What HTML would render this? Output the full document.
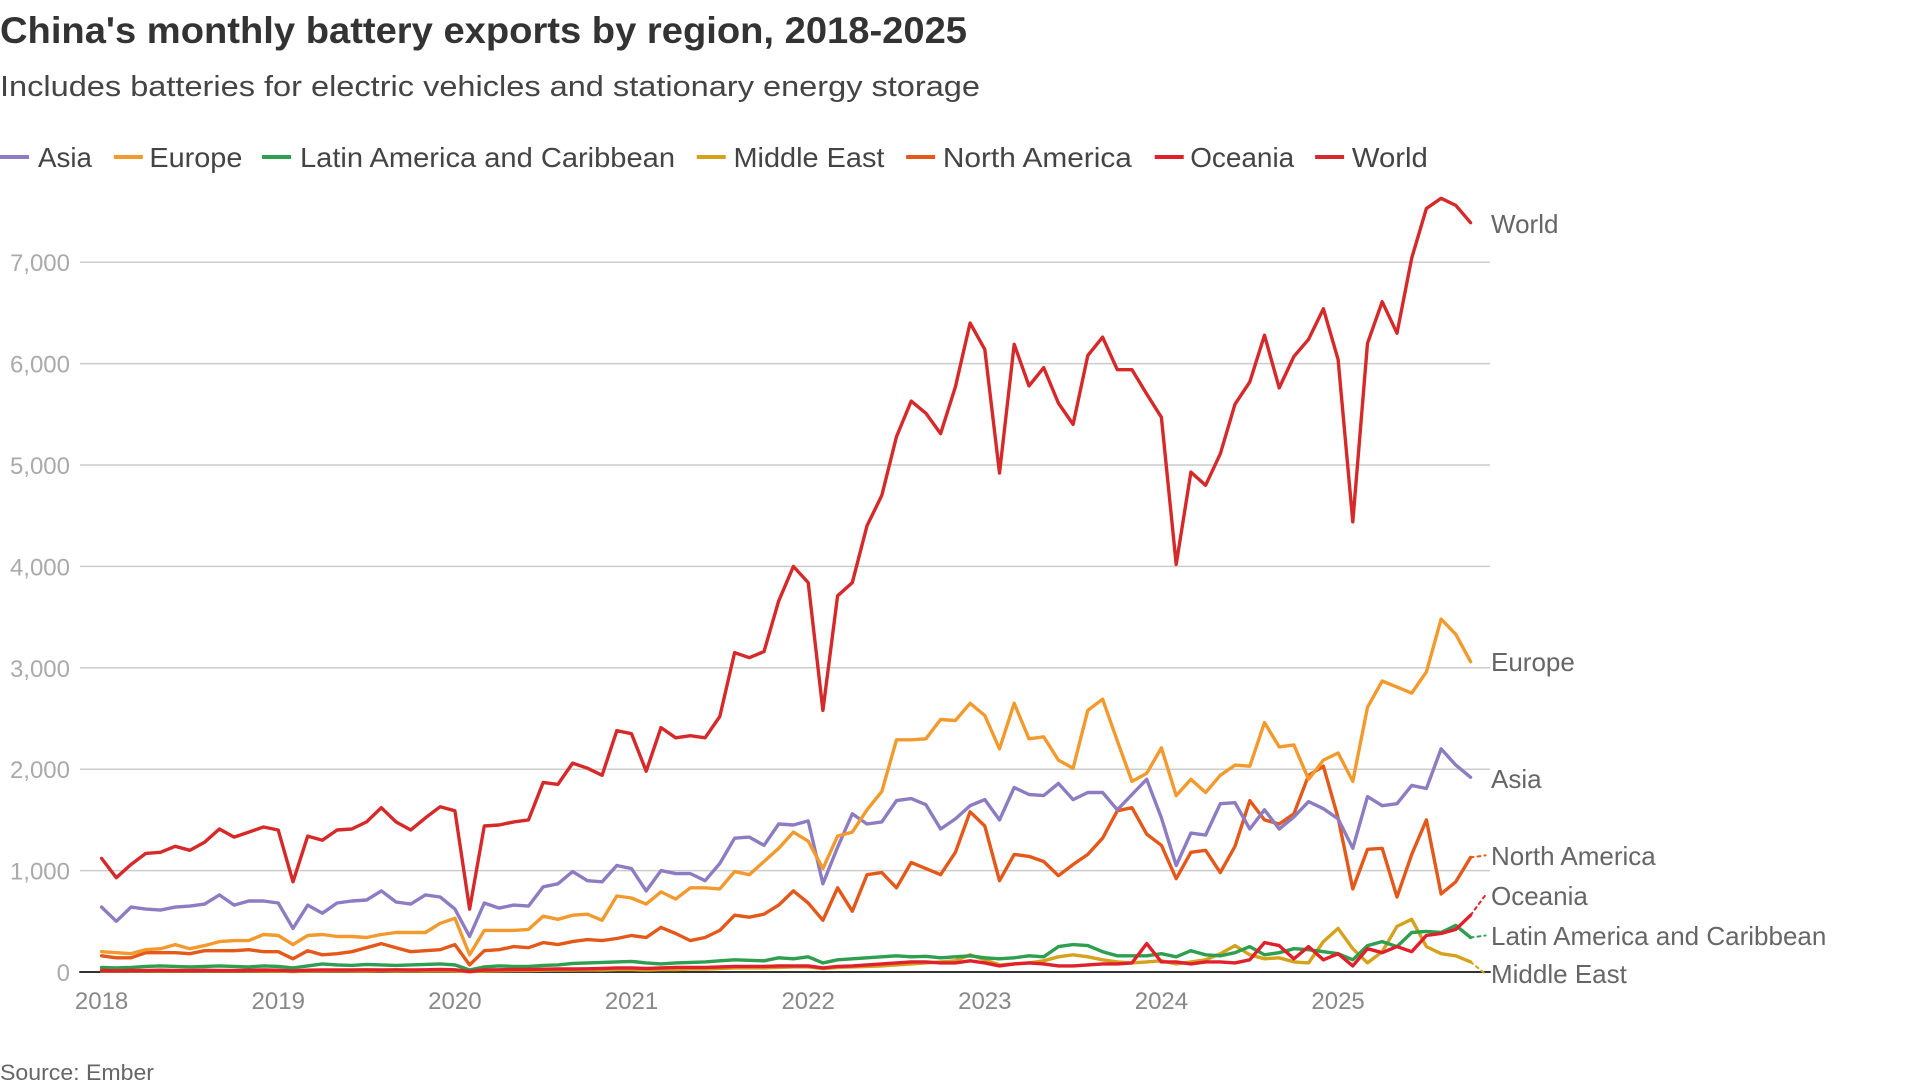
<!DOCTYPE html>
<html><head><meta charset="utf-8"><style>
html,body{margin:0;padding:0;background:#fff;}
svg{display:block;}
text{font-family:"Liberation Sans",sans-serif;}
</style></head><body>
<svg id="s" width="1920" height="1087" xmlns="http://www.w3.org/2000/svg">
<text x="0" y="43" font-size="37" font-weight="bold" fill="#333" textLength="967" lengthAdjust="spacingAndGlyphs">China's monthly battery exports by region, 2018-2025</text>
<text x="0" y="96" font-size="29" fill="#444" textLength="980" lengthAdjust="spacingAndGlyphs">Includes batteries for electric vehicles and stationary energy storage</text>
<g id="legend" font-size="28" fill="#444"></g>
<g id="grid"></g>
<g id="lines" fill="none" stroke-width="3.4" stroke-linejoin="round" stroke-linecap="round"></g>
<g id="labels" font-size="26" fill="#666"></g>
<text x="0" y="1080" font-size="22" fill="#666" textLength="154" lengthAdjust="spacingAndGlyphs">Source: Ember</text>
</svg>
<script>
const NS="http://www.w3.org/2000/svg";
function el(t,a,p,txt){const e=document.createElementNS(NS,t);for(const k in a)e.setAttribute(k,a[k]);if(txt!==undefined)e.textContent=txt;p.appendChild(e);return e;}
const X0=101.6,DX=14.72,Y0=972,K=0.1014;
const X=i=>X0+i*DX, Y=v=>Y0-v*K;
const grid=document.getElementById('grid');
for(let v=1000;v<=7000;v+=1000){el('line',{x1:80,x2:1490,y1:Y(v),y2:Y(v),stroke:'#ccc','stroke-width':1.5},grid);
 el('text',{x:70,y:Y(v)+9,'font-size':24,fill:'#aaa','text-anchor':'end'},grid,v.toLocaleString('en-US'));}
el('text',{x:70,y:Y0+9,'font-size':24,fill:'#aaa','text-anchor':'end'},grid,'0');
for(let y=0;y<8;y++)el('text',{x:X(y*12),y:1009,'font-size':24,fill:'#888','text-anchor':'middle'},grid,String(2018+y));
const W=[1120,930,1060,1170,1180,1240,1200,1280,1410,1330,1380,1430,1400,890,1340,1300,1400,1410,1480,1620,1480,1400,1520,1630,1590,620,1440,1450,1480,1500,1870,1850,2060,2010,1940,2380,2350,1980,2410,2310,2330,2310,2520,3150,3100,3160,3660,4000,3840,2580,3710,3840,4400,4700,5280,5630,5510,5310,5770,6400,6140,4920,6190,5780,5960,5610,5400,6080,6260,5940,5940,5700,5470,4020,4930,4800,5110,5600,5820,6280,5760,6070,6240,6540,6040,4440,6200,6610,6300,7040,7530,7630,7560,7390];
const E=[200,190,180,220,230,270,230,260,300,310,310,370,360,270,360,370,350,350,340,370,390,390,390,480,530,170,410,410,410,420,550,520,560,570,510,750,730,670,790,720,830,830,820,990,960,1090,1220,1380,1290,1020,1340,1380,1600,1780,2290,2290,2300,2490,2480,2650,2530,2200,2650,2300,2320,2090,2010,2580,2690,2280,1880,1960,2210,1740,1900,1770,1940,2040,2030,2460,2220,2240,1900,2090,2160,1880,2610,2870,2810,2750,2960,3480,3330,3060];
const A=[640,500,640,620,610,640,650,670,760,660,700,700,680,430,660,580,680,700,710,800,690,670,760,740,620,350,680,630,660,650,840,870,990,900,890,1050,1020,800,1000,970,970,900,1070,1320,1330,1250,1460,1450,1490,870,1230,1560,1460,1480,1690,1710,1650,1410,1510,1640,1700,1500,1820,1750,1740,1860,1700,1770,1770,1600,1750,1900,1520,1050,1370,1350,1660,1670,1410,1600,1410,1530,1680,1610,1510,1220,1730,1640,1660,1840,1810,2200,2040,1920];
const N=[160,140,140,190,190,190,180,210,210,210,220,200,200,130,210,170,180,200,240,280,240,200,210,220,270,70,210,220,250,240,290,270,300,320,310,330,360,340,440,380,310,340,410,560,540,570,660,800,680,510,830,600,960,980,830,1080,1020,960,1180,1580,1440,900,1160,1140,1090,950,1060,1160,1320,1590,1620,1360,1250,920,1180,1200,980,1240,1690,1500,1460,1560,1940,2030,1520,820,1210,1220,740,1160,1500,770,890,1130];
const L=[45,40,45,55,60,55,50,55,60,55,50,60,55,40,60,80,70,65,75,70,65,70,75,80,70,20,50,60,55,55,65,70,85,90,95,100,105,90,80,90,95,100,110,120,115,110,140,130,150,90,120,130,140,150,160,150,155,140,150,160,140,130,140,160,150,250,270,260,200,160,160,160,180,150,210,170,160,190,250,170,190,230,220,200,180,120,260,300,250,390,400,390,460,340];
const M=[10,8,10,10,12,10,10,12,10,10,12,10,10,5,10,10,12,10,10,12,10,12,10,12,10,3,10,12,15,15,18,20,20,22,20,25,25,20,25,25,30,30,35,40,40,40,45,50,50,35,45,50,55,60,70,80,90,100,110,170,120,70,80,90,110,150,170,150,120,100,90,100,110,80,100,120,180,260,170,130,140,100,90,300,430,230,90,200,450,520,250,180,160,100];
const O=[15,12,15,15,18,15,15,18,15,15,18,20,18,10,18,20,20,20,22,20,22,20,22,25,22,5,20,22,25,25,28,30,30,32,35,40,40,35,40,45,45,45,50,55,55,55,60,60,60,40,55,60,70,80,90,100,100,90,90,110,90,60,80,90,80,60,60,70,80,80,90,280,100,100,80,100,100,90,120,290,260,130,250,120,180,60,230,190,250,200,360,380,420,560];
const lines=document.getElementById('lines');
function path(d,c,dash){el('path',{d:'M'+d.map((v,i)=>X(i).toFixed(1)+','+Y(v).toFixed(1)).join('L'),stroke:c},lines);
 if(dash!==null){const n=d.length-1;el('line',{x1:X(n),y1:Y(d[n]),x2:X(n)+15,y2:Y(dash),stroke:c,'stroke-width':2,'stroke-dasharray':'3,4'},lines);}}
el('line',{x1:80,x2:1490,y1:Y0,y2:Y0,stroke:'#333','stroke-width':2},lines);
path(M,'#d4a21c',-20);path(L,'#2e9e4f',360);path(O,'#e0202a',760);path(N,'#e4581a',1150);path(A,'#8e7cc3',null);path(E,'#f39a2e',null);path(W,'#d62a2a',null);
const lab=document.getElementById('labels');
[['World',233],['Europe',671],['Asia',788],['North America',865],['Oceania',905],['Latin America and Caribbean',945],['Middle East',983]].forEach(([t,y])=>el('text',{x:1491,y:y},lab,t));
const leg=document.getElementById('legend');
const items=[['Asia','#8e7cc3',0,31,75],['Europe','#f39a2e',93,122,198],['Latin America and Caribbean','#2e9e4f',214,245,551],['Middle East','#d4a21c',569,599,722],['North America','#e4581a',740,770,924],['Oceania','#e0202a',943,972,1057],['World','#d62a2a',1074,1104,1166]];
const s=1.2245;
items.forEach(([t,c,a,b,e])=>{el('line',{x1:a*s,x2:a*s+29,y1:157,y2:157,stroke:c,'stroke-width':4},leg);
 el('text',{x:b*s,y:167,textLength:((e-b)*s).toFixed(0),lengthAdjust:'spacingAndGlyphs'},leg,t);});
</script>
</body></html>
